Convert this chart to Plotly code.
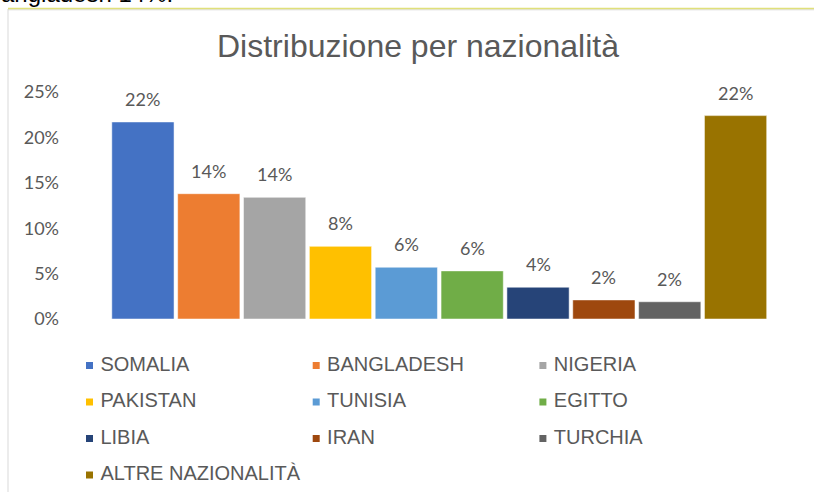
import plotly.graph_objects as go

# ---- data ----
nazioni = ["SOMALIA", "BANGLADESH", "NIGERIA", "PAKISTAN", "TUNISIA",
           "EGITTO", "LIBIA", "IRAN", "TURCHIA", "ALTRE NAZIONALITÀ"]
valori = [21.7, 13.8, 13.4, 8.0, 5.7, 5.3, 3.5, 2.1, 1.9, 22.4]
etichette = ["22%", "14%", "14%", "8%", "6%", "6%", "4%", "2%", "2%", "22%"]
colori = ["#4472C4", "#ED7D31", "#A5A5A5", "#FFC000", "#5B9BD5",
          "#70AD47", "#264478", "#9E480E", "#636363", "#997300"]
tick_vals = [0, 5, 10, 15, 20, 25]
tick_text = ["0%", "5%", "10%", "15%", "20%", "25%"]
titolo = "Distribuzione per nazionalità"
testo_sopra = "Bangladesh 14%."

W, H = 814, 492
# plot area in pixels
PL, PR, PT, PB = 110, 768.5, 92, 319

# legend grid geometry (pixels)
LEG_COLS = 3
LEG_X0, LEG_DX = 89.5, 226.7
LEG_Y0, LEG_DY = 365.5, 36.5


def fx(p):
    return p / W


def fy(p):
    return 1 - p / H


fig = go.Figure()
for n, v, c in zip(nazioni, valori, colori):
    fig.add_trace(go.Bar(x=[n], y=[v], marker=dict(color=c, line=dict(color="white", width=0.5)),
                         showlegend=False, hoverinfo="skip"))

# legend drawn as a marker+text trace on its own full-figure axes (3 columns)
leg_col = [i % LEG_COLS for i in range(len(nazioni))]
leg_row = [i // LEG_COLS for i in range(len(nazioni))]
leg_text = ["\u00a0" + n for n in nazioni]
fig.add_trace(go.Scatter(
    x=leg_col, y=leg_row, xaxis="x2", yaxis="y2", mode="markers+text",
    text=leg_text, textposition="middle right",
    textfont=dict(family="Liberation Sans", size=20, color="#595959"),
    marker=dict(symbol="square", size=7, color=colori, line=dict(width=0)),
    cliponaxis=False, showlegend=False, hoverinfo="skip"))

annotations = []
for n, v, t in zip(nazioni, valori, etichette):
    annotations.append(dict(x=n, y=v, text=t, showarrow=False, yshift=23,
                            yanchor="middle", xanchor="center",
                            font=dict(family="Lato", size=18, color="#595959")))

annotations.append(dict(xref="paper", yref="paper", x=fx(-17), y=fy(-7),
                        xanchor="left", yanchor="middle", text=testo_sopra, showarrow=False,
                        font=dict(family="Liberation Sans", size=24, color="#000000")))

shapes = [
    dict(type="line", xref="paper", yref="paper", x0=fx(8), x1=fx(8),
         y0=fy(9), y1=fy(H + 5), line=dict(color="#D9D9D9", width=1)),
    dict(type="line", xref="paper", yref="paper", x0=fx(8), x1=fx(W + 5),
         y0=fy(9.8), y1=fy(9.8), line=dict(color="#D9D9D9", width=1)),
    dict(type="line", xref="paper", yref="paper", x0=fx(8), x1=fx(W + 5),
         y0=fy(8.5), y1=fy(8.5), line=dict(color="#E0E07A", width=1.5)),
]

x2_range = [-LEG_X0 / LEG_DX, (W - LEG_X0) / LEG_DX]
y2_range = [(H - LEG_Y0) / LEG_DY, -LEG_Y0 / LEG_DY]

fig.update_layout(
    width=W, height=H,
    margin=dict(l=0, r=0, t=0, b=0, pad=0),
    paper_bgcolor="white", plot_bgcolor="rgba(0,0,0,0)",
    barmode="overlay", bargap=0.055,
    showlegend=False,
    title=dict(text=titolo, xref="container", yref="container", x=418 / W,
               y=1 - 46 / H, xanchor="center", yanchor="middle",
               font=dict(family="Liberation Sans", size=32, color="#595959")),
    xaxis=dict(domain=[fx(PL), fx(PR)], type="category", categoryorder="array",
               categoryarray=nazioni, range=[-0.5, len(nazioni) - 0.5],
               showticklabels=False, showgrid=False, zeroline=False, showline=False,
               fixedrange=True, automargin=False),
    yaxis=dict(domain=[fy(PB), fy(PT)], range=[0, 25], tickvals=tick_vals, ticktext=tick_text,
               showgrid=False, zeroline=False, showline=False, ticks="",
               ticklabelstandoff=50, automargin=False,
               tickfont=dict(family="Lato", size=18, color="#595959"), fixedrange=True),
    xaxis2=dict(domain=[0, 1], anchor="y2", range=x2_range, visible=False, fixedrange=True),
    yaxis2=dict(domain=[0, 1], anchor="x2", range=y2_range, visible=False, fixedrange=True),
    annotations=annotations,
    shapes=shapes,
)

fig.write_html("out.html", config={"displayModeBar": False},
               post_script="document.body.style.margin='0px';document.body.style.overflow='hidden';")
